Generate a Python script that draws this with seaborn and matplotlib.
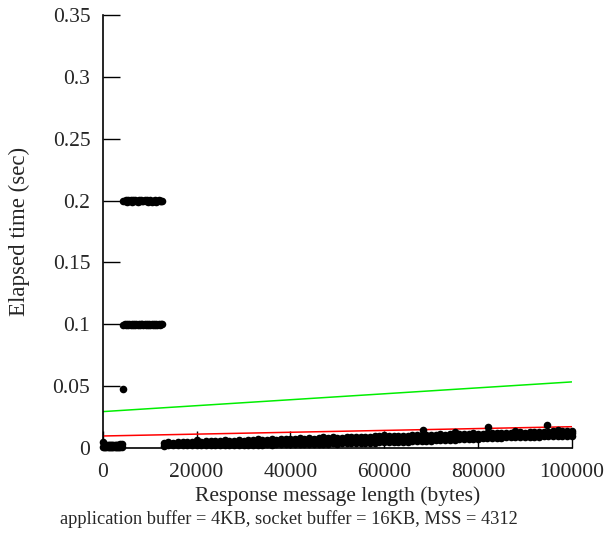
import matplotlib
matplotlib.use("Agg")
import matplotlib.pyplot as plt
import seaborn as sns
import pandas as pd

# --- data ---
# short messages (< 4KB): near zero
small_x = [0, 250, 500, 750, 1000, 1250, 1500, 1750, 2000, 2250, 2500, 2750, 3000, 3250, 3500, 3750, 4000]
small_y_lo = [0.0006, 0.0008, 0.0005, 0.0007, 0.0009, 0.0006, 0.0008, 0.0007, 0.0010, 0.0008, 0.0009, 0.0007, 0.0010, 0.0009, 0.0011, 0.0010, 0.0012]
small_y_hi = [0.0050, 0.0030, 0.0025, 0.0028, 0.0022, 0.0026, 0.0024, 0.0027, 0.0023, 0.0025, 0.0028, 0.0024, 0.0026, 0.0027, 0.0025, 0.0029, 0.0030]

# 4KB..12.5KB: delayed-ack plateaus
mid_x = [4400, 4650, 4900, 5150, 5400, 5650, 5900, 6150, 6400, 6650, 6900, 7150, 7400, 7650,
         7900, 8150, 8400, 8650, 8900, 9150, 9400, 9650, 9900, 10150, 10400, 10650, 10900,
         11150, 11400, 11650, 11900, 12150, 12400, 12700]
band200_y = [0.2000, 0.1995, 0.2004, 0.1992, 0.2002, 0.1996, 0.2005, 0.1990, 0.2001, 0.1994,
             0.2003, 0.1997, 0.1991, 0.2002, 0.1995, 0.2004, 0.1993, 0.1998, 0.2001, 0.1994,
             0.2003, 0.1990, 0.1999, 0.2004, 0.1992, 0.2000, 0.1996, 0.2003, 0.1991, 0.1998,
             0.2002, 0.1994, 0.1997, 0.1999]
band100_y = [0.0998, 0.1002, 0.0995, 0.1004, 0.0997, 0.1001, 0.0993, 0.1003, 0.0996, 0.1000,
             0.0994, 0.1002, 0.0998, 0.1004, 0.0995, 0.1001, 0.0999, 0.0997, 0.1003, 0.0994,
             0.1000, 0.0996, 0.1004, 0.0993, 0.1001, 0.0998, 0.1002, 0.0995, 0.1000, 0.0997,
             0.1003, 0.0996, 0.0999, 0.1001]
lone_x = [4200]
lone_y = [0.0475]

# 13KB..100KB: growth band (lower edge, middle, upper edge)
big_x = [13000, 14000, 15000, 16000, 17000, 18000, 19000, 20000, 21000, 22000,
         23000, 24000, 25000, 26000, 27000, 28000, 29000, 30000, 31000, 32000,
         33000, 34000, 35000, 36000, 37000, 38000, 39000, 40000, 41000, 42000,
         43000, 44000, 45000, 46000, 47000, 48000, 49000, 50000, 51000, 52000,
         53000, 54000, 55000, 56000, 57000, 58000, 59000, 60000, 61000, 62000,
         63000, 64000, 65000, 66000, 67000, 68000, 69000, 70000, 71000, 72000,
         73000, 74000, 75000, 76000, 77000, 78000, 79000, 80000, 81000, 82000,
         83000, 84000, 85000, 86000, 87000, 88000, 89000, 90000, 91000, 92000,
         93000, 94000, 95000, 96000, 97000, 98000, 99000, 100000]
big_y_lo = [0.0020, 0.0022, 0.0021, 0.0023, 0.0022, 0.0024, 0.0023, 0.0022, 0.0024, 0.0023,
            0.0025, 0.0024, 0.0026, 0.0025, 0.0024, 0.0026, 0.0027, 0.0025, 0.0027, 0.0028,
            0.0026, 0.0028, 0.0029, 0.0027, 0.0030, 0.0029, 0.0031, 0.0030, 0.0032, 0.0031,
            0.0033, 0.0032, 0.0034, 0.0035, 0.0034, 0.0036, 0.0037, 0.0036, 0.0038, 0.0039,
            0.0040, 0.0041, 0.0040, 0.0042, 0.0043, 0.0044, 0.0045, 0.0046, 0.0047, 0.0048,
            0.0049, 0.0051, 0.0052, 0.0053, 0.0055, 0.0056, 0.0058, 0.0059, 0.0061, 0.0062,
            0.0064, 0.0066, 0.0067, 0.0069, 0.0071, 0.0072, 0.0074, 0.0076, 0.0077, 0.0079,
            0.0080, 0.0082, 0.0083, 0.0085, 0.0086, 0.0087, 0.0088, 0.0090, 0.0091, 0.0092,
            0.0092, 0.0093, 0.0094, 0.0095, 0.0095, 0.0096, 0.0097, 0.0097]
big_y_hi = [0.0042, 0.0045, 0.0043, 0.0047, 0.0046, 0.0048, 0.0052, 0.0049, 0.0051, 0.0055,
            0.0053, 0.0056, 0.0054, 0.0058, 0.0057, 0.0060, 0.0063, 0.0059, 0.0062, 0.0066,
            0.0064, 0.0067, 0.0065, 0.0069, 0.0068, 0.0071, 0.0074, 0.0070, 0.0073, 0.0077,
            0.0075, 0.0078, 0.0076, 0.0080, 0.0079, 0.0082, 0.0085, 0.0081, 0.0084, 0.0088,
            0.0086, 0.0089, 0.0087, 0.0091, 0.0090, 0.0093, 0.0096, 0.0092, 0.0095, 0.0099,
            0.0097, 0.0100, 0.0098, 0.0102, 0.0101, 0.0104, 0.0107, 0.0103, 0.0106, 0.0110,
            0.0108, 0.0111, 0.0109, 0.0113, 0.0112, 0.0115, 0.0118, 0.0114, 0.0117, 0.0121,
            0.0119, 0.0122, 0.0120, 0.0124, 0.0123, 0.0126, 0.0129, 0.0125, 0.0128, 0.0132,
            0.0130, 0.0133, 0.0131, 0.0135, 0.0134, 0.0137, 0.0136, 0.0138]
fill_x = [14000, 16000, 18000, 20000, 22000, 24000, 26000, 28000, 30000, 32000,
          34000, 36000, 38000, 40000, 42000, 44000, 46000, 48000, 50000, 52000,
          54000, 56000, 58000, 60000, 62000, 64000, 66000, 68000, 70000, 72000,
          74000, 76000, 78000, 80000, 82000, 84000, 86000, 88000, 90000, 92000,
          94000, 96000, 98000, 100000]
fill_y = [0.0033, 0.0035, 0.0037, 0.0037, 0.0040, 0.0041, 0.0043, 0.0045, 0.0046, 0.0048,
          0.0049, 0.0051, 0.0053, 0.0054, 0.0056, 0.0058, 0.0060, 0.0062, 0.0064, 0.0066,
          0.0068, 0.0070, 0.0072, 0.0074, 0.0076, 0.0078, 0.0081, 0.0083, 0.0085, 0.0088,
          0.0090, 0.0092, 0.0095, 0.0097, 0.0100, 0.0102, 0.0105, 0.0107, 0.0110, 0.0112,
          0.0114, 0.0116, 0.0117, 0.0118]
outlier_x = [20000, 26000, 33000, 47000, 60000, 68200, 75000, 82100, 88000, 94700, 97000]
outlier_y = [0.0062, 0.0066, 0.0075, 0.0092, 0.0108, 0.0146, 0.0130, 0.0170, 0.0140, 0.0186, 0.0148]

# fitted lines (two endpoints each)
line_x = [0, 100000]
red_y = [0.0097, 0.0172]
green_y = [0.0294, 0.0534]

xticks = [0, 20000, 40000, 60000, 80000, 100000]
yticks = [0, 0.05, 0.1, 0.15, 0.2, 0.25, 0.3, 0.35]
ytick_labels = ["0", "0.05", "0.1", "0.15", "0.2", "0.25", "0.3", "0.35"]

pts = pd.DataFrame({
    "x": small_x + small_x + mid_x + mid_x + lone_x + big_x + big_x + fill_x + outlier_x,
    "y": (small_y_lo + small_y_hi + band200_y + band100_y + lone_y
          + big_y_lo + big_y_hi + fill_y + outlier_y),
})

sns.set_style("ticks")
plt.rcParams["font.family"] = ["Liberation Serif", "DejaVu Serif"]

fig = plt.figure(figsize=(6.05, 5.33), dpi=100)
ax = fig.add_axes([0.170, 0.1595, 0.775, 0.8125])

sns.lineplot(x=line_x, y=green_y, ax=ax, color="#00ee00", linewidth=1.1)
sns.lineplot(x=line_x, y=red_y, ax=ax, color="#ff0000", linewidth=1.1)
sns.scatterplot(data=pts, x="x", y="y", ax=ax, color="black", s=30,
                edgecolor="black", linewidth=0, zorder=3, clip_on=False)

ax.set_xlim(0, 100000)
ax.set_ylim(0, 0.35)
ax.set_xticks(xticks)
ax.set_xticklabels([str(t) for t in xticks])
ax.set_yticks(yticks)
ax.set_yticklabels(ytick_labels)
ax.tick_params(direction="in", length=12, width=1, labelsize=15.5, color="black")
ax.tick_params(axis="y", pad=9)
ax.tick_params(axis="x", pad=11)
sns.despine(ax=ax)
for s in ["left", "bottom"]:
    ax.spines[s].set_linewidth(1.2)
    ax.spines[s].set_color("black")

ax.set_xlabel("Response message length (bytes)", fontsize=15.5, labelpad=3)
ax.set_ylabel("Elapsed time (sec)", fontsize=16.5, labelpad=16)
fig.text(0.1, 0.017, "application buffer = 4KB, socket buffer = 16KB, MSS = 4312", fontsize=13.2)

fig.savefig("out.png", dpi=100)
